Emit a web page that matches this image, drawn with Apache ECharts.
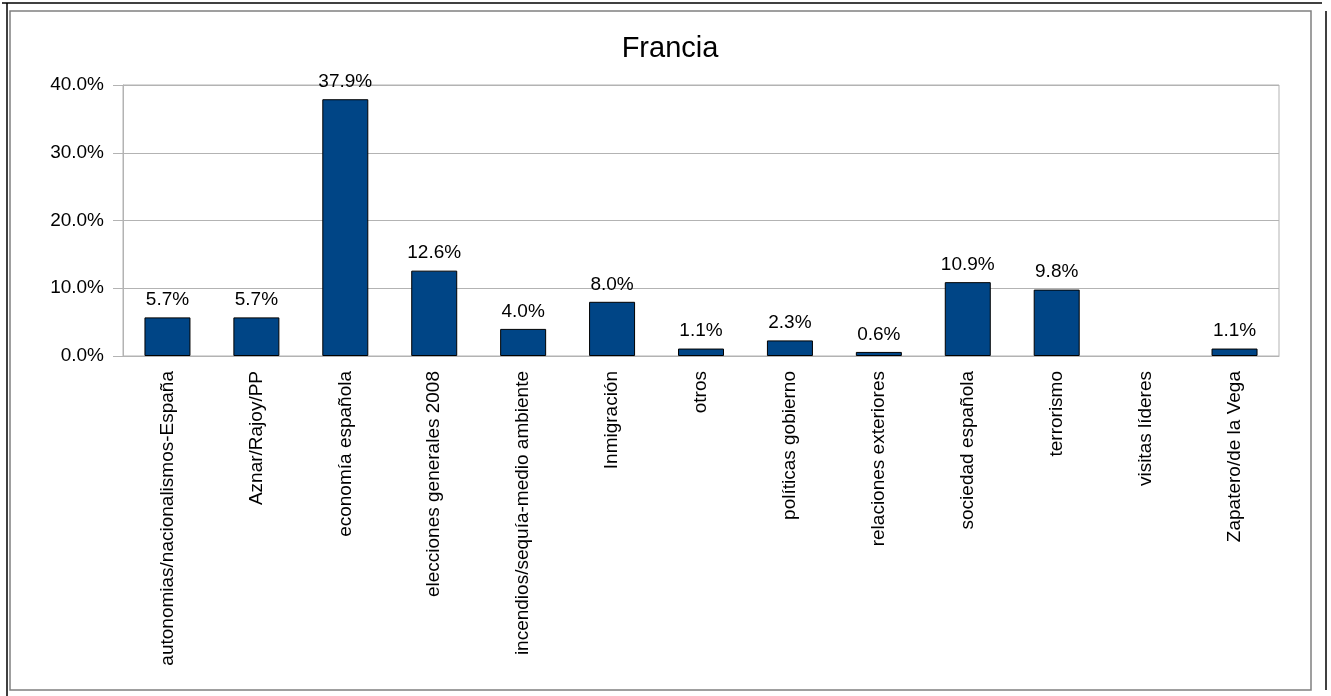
<!DOCTYPE html>
<html>
<head>
<meta charset="utf-8">
<script src="https://cdn.jsdelivr.net/npm/echarts@6/dist/echarts.min.js"></script>
<style>
  html, body { margin: 0; padding: 0; background: #fff; }
  #chart { width: 1331px; height: 696px; }
</style>
</head>
<body>
<div id="chart"></div>
<script>
// Temas - Francia
var categories = [
  'autonomias/nacionalismos-España',
  'Aznar/Rajoy/PP',
  'economía española',
  'elecciones generales 2008',
  'incendios/sequía-medio ambiente',
  'Inmigración',
  'otros',
  'políticas gobierno',
  'relaciones exteriores',
  'sociedad española',
  'terrorismo',
  'visitas líderes',
  'Zapatero/de la Vega'
];
var values = [5.7, 5.7, 37.9, 12.6, 4.0, 8.0, 1.1, 2.3, 0.6, 10.9, 9.8, null, 1.1];
var yTicks = { min: 0, max: 40, step: 10 };

var font = '"Liberation Sans", Arial, sans-serif';
var chart = echarts.init(document.getElementById('chart'));

chart.setOption({
  animation: false,
  backgroundColor: '#fff',
  title: {
    text: 'Francia',
    left: 665,
    top: 29,
    textAlign: 'center',
    textStyle: { fontFamily: font, fontSize: 29, fontWeight: 'normal', color: '#000' }
  },
  grid: {
    left: 123, right: 52, top: 85, bottom: 340,
    show: true, borderColor: '#b3b3b3', borderWidth: 1
  },
  xAxis: {
    type: 'category',
    data: categories,
    axisLine: { lineStyle: { color: '#b3b3b3' } },
    axisTick: { alignWithLabel: true, length: 9, lineStyle: { color: '#b3b3b3' } },
    axisLabel: {
      rotate: 90, interval: 0, margin: 15,
      fontFamily: font, fontSize: 19, color: '#000'
    }
  },
  yAxis: {
    type: 'value',
    min: yTicks.min, max: yTicks.max, interval: yTicks.step,
    axisLine: { show: true, lineStyle: { color: '#b3b3b3' } },
    axisTick: { show: true, length: 10, lineStyle: { color: '#b3b3b3' } },
    splitLine: { lineStyle: { color: '#b3b3b3' } },
    axisLabel: {
      margin: 19, fontFamily: font, fontSize: 19, color: '#000',
      formatter: function (v) { return v.toFixed(1) + '%'; }
    }
  },
  series: [{
    type: 'bar',
    data: values,
    barWidth: 46,
    itemStyle: { color: '#004586', borderColor: '#000', borderWidth: 1 },
    label: {
      show: true, position: 'top', distance: 8,
      fontFamily: font, fontSize: 19, color: '#000',
      formatter: function (p) { return p.value == null ? '' : p.value.toFixed(1) + '%'; }
    }
  }],
  graphic: [
    // chart area frame
    { type: 'rect', shape: { x: 10, y: 11, width: 1301, height: 679 },
      style: { fill: null, stroke: '#808080', lineWidth: 1.5 }, silent: true },
    // page border lines
    { type: 'line', shape: { x1: 2, y1: 3, x2: 1322, y2: 3 }, style: { stroke: '#000', lineWidth: 1.5 } },
    { type: 'line', shape: { x1: 7, y1: 3, x2: 7, y2: 696 }, style: { stroke: '#000', lineWidth: 1.5 } },
    { type: 'line', shape: { x1: 1326, y1: 11, x2: 1326, y2: 690 }, style: { stroke: '#000', lineWidth: 1.5 } }
  ]
});
</script>
</body>
</html>
